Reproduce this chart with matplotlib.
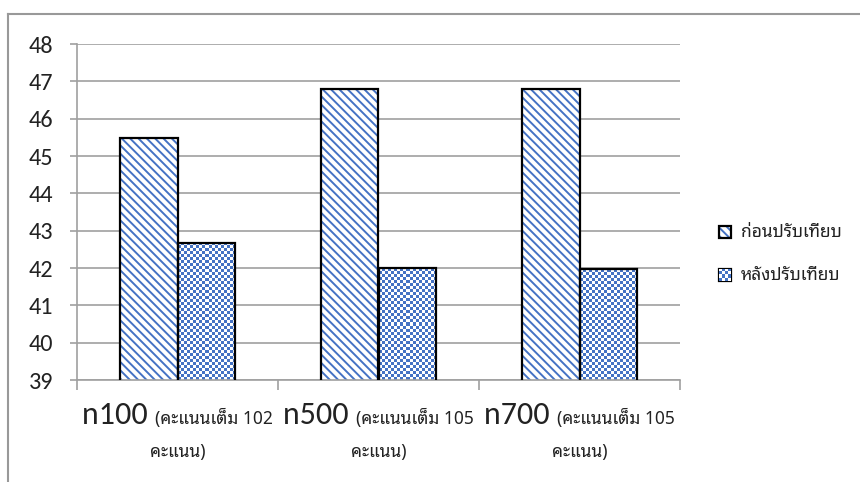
import numpy as np
import matplotlib
matplotlib.use("Agg")
import matplotlib.pyplot as plt
from matplotlib.colors import ListedColormap
from matplotlib.lines import Line2D
from matplotlib.offsetbox import TextArea, HPacker, VPacker, AnnotationBbox

groups = ["n100", "n500", "n700"]
full_marks = ["102", "105", "105"]
before = [45.48, 46.80, 46.80]
after = [42.67, 41.99, 41.97]
series_names = ["ก่อนปรับเทียบ", "หลังปรับเทียบ"]
y_ticks = list(range(39, 49))

latin = ["Carlito", "Lato", "DejaVu Sans"]
thai = ["Noto Sans Thai Looped", "Noto Sans Thai", "Noto Sans", "DejaVu Sans"]
blue = "#4472C4"
gray = "#a0a0a0"
stripes = "\\" * 4

plt.rcParams["hatch.linewidth"] = 1.4

W, H = 860, 482
fig = plt.figure(figsize=(W / 100, H / 100), dpi=100)
ax = fig.add_axes([77 / W, 1 - 380 / H, 603 / W, 336 / H])
ax.set_xlim(-0.5, 2.5)
ax.set_ylim(39, 48)


def checker(a, x0, x1, y0, y1, cell=3):
    # checkerboard fill, squares sized in screen pixels
    p0 = a.transData.transform((x0, y0))
    p1 = a.transData.transform((x1, y1))
    nx = max(1, int(round(abs(p1[0] - p0[0]) / cell)))
    ny = max(1, int(round(abs(p1[1] - p0[1]) / cell)))
    grid = np.add.outer(np.arange(ny), np.arange(nx)) % 2
    a.imshow(grid, cmap=ListedColormap(["white", blue]), extent=(x0, x1, y0, y1),
             origin="upper", interpolation="nearest", aspect="auto", zorder=2)


x = np.arange(len(groups))
w = 1 / 3.5

# striped series
ax.bar(x - w / 2, before, w, color="white", edgecolor=blue, hatch=stripes,
       linewidth=0, zorder=2)
ax.bar(x - w / 2, before, w, facecolor="none", edgecolor="black", linewidth=1.6, zorder=3)

# checkered series
for xi, v in zip(x, after):
    checker(ax, xi, xi + w, 39, v)
ax.bar(x + w / 2, after, w, facecolor="none", edgecolor="black", linewidth=1.6, zorder=3)

ax.set_xlim(-0.5, 2.5)
ax.set_ylim(39, 48)

ax.set_yticks(y_ticks)
ax.yaxis.grid(True, color=gray, linewidth=1.2)
ax.set_axisbelow(True)
for s in ["top", "right"]:
    ax.spines[s].set_visible(False)
for s in ["left", "bottom"]:
    ax.spines[s].set_color(gray)
    ax.spines[s].set_linewidth(1.2)
ax.tick_params(axis="y", direction="out", length=5, width=1.2, color=gray, pad=12,
               labelsize=17.5, labelcolor="#222222")
for lab in ax.get_yticklabels():
    lab.set_family(latin)
ax.set_xticks([-0.5, 0.5, 1.5, 2.5])
ax.set_xticklabels([])
ax.tick_params(axis="x", direction="out", length=7, width=1.2, color=gray)

# two-line category labels with mixed font sizes
for xi, g, m in zip(x, groups, full_marks):
    top = HPacker(children=[
        TextArea(g + " ", textprops=dict(family=latin, size=23, color="#222222")),
        TextArea("(คะแนนเต็ม " + m, textprops=dict(family=thai, size=12.5, color="#222222")),
    ], align="baseline", pad=0, sep=0)
    bottom = TextArea("คะแนน)", textprops=dict(family=thai, size=12.5, color="#222222"))
    box = VPacker(children=[top, bottom], align="center", pad=0, sep=10)
    ab = AnnotationBbox(box, (xi, 39), xybox=(0, -15), xycoords="data",
                        boxcoords="offset points", box_alignment=(0.5, 1),
                        frameon=False, annotation_clip=False)
    ax.add_artist(ab)

# legend swatches
sw1 = fig.add_axes([719 / W, 1 - 238 / H, 12 / W, 12 / H])
sw1.set_xlim(0, 1)
sw1.set_ylim(0, 1)
sw1.bar(0.5, 1, 1, color="white", edgecolor=blue, hatch=stripes, linewidth=0)
sw1.bar(0.5, 1, 1, facecolor="none", edgecolor="black", linewidth=1.6, clip_on=False)
sw1.axis("off")

sw2 = fig.add_axes([719 / W, 1 - 281 / H, 12 / W, 12 / H])
checker(sw2, 0, 1, 0, 1)
sw2.bar(0.5, 1, 1, facecolor="none", edgecolor="black", linewidth=1.6, clip_on=False)
sw2.set_xlim(0, 1)
sw2.set_ylim(0, 1)
sw2.axis("off")

for name, yc in zip(series_names, [232, 275]):
    fig.text(741 / W, 1 - yc / H, name, family=thai, size=12.5, color="#222222",
             va="center", ha="left")

# outer chart frame (top and left edges)
fig.add_artist(Line2D([8 / W, 1], [1 - 14 / H, 1 - 14 / H], color="#999999", linewidth=1.5))
fig.add_artist(Line2D([8 / W, 8 / W], [0, 1 - 14 / H], color="#999999", linewidth=1.5))

fig.savefig("out.png", dpi=100)
